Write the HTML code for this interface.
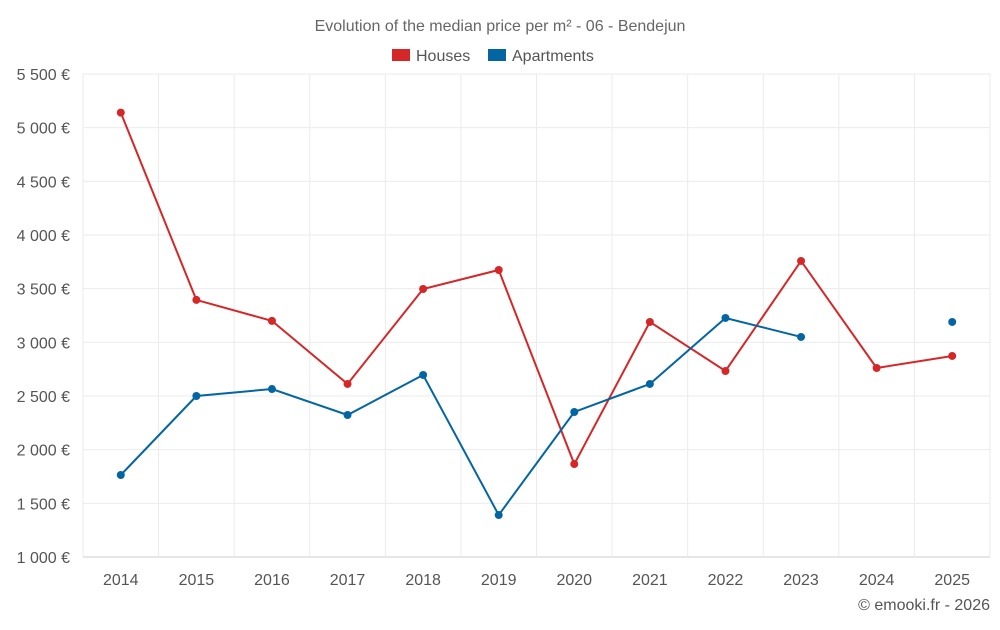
<!DOCTYPE html>
<html><head><meta charset="utf-8"><style>
body{margin:0;background:#fff;font-family:"Liberation Sans",sans-serif;}
svg text{font-family:"Liberation Sans",sans-serif;}
</style></head><body>
<svg id="chart" width="1000" height="625">
<text x="500" y="31" text-anchor="middle" font-size="16" fill="#666">Evolution of the median price per m² - 06 - Bendejun</text>
<g>
<g><rect x="392" y="49" width="18" height="12" fill="#d62728"/><text x="416" y="61" font-size="16" fill="#555">Houses</text></g>
<g><rect x="488" y="49" width="18" height="12" fill="#0366a3"/><text x="512" y="61" font-size="16" fill="#555">Apartments</text></g>
</g>
<g id="grid"></g>
<g id="marks"></g>
<text x="990" y="610" text-anchor="end" font-size="16" fill="#555">© emooki.fr - 2026</text>
</svg>
<script>
const years=[2014,2015,2016,2017,2018,2019,2020,2021,2022,2023,2024,2025];
const houses=[5140,3395,3200,2612,3497,3674,1866,3190,2733,3758,2761,2873];
const apartments=[1764,2500,2565,2323,2696,1391,2351,2612,3227,3050,null,3190];
const yTicks=[1000,1500,2000,2500,3000,3500,4000,4500,5000,5500];
const yTickLabels=["1 000 €","1 500 €","2 000 €","2 500 €","3 000 €","3 500 €","4 000 €","4 500 €","5 000 €","5 500 €"];
const L=83,R=990,T=74,B=557,ymin=1000,ymax=5500;
const step=(R-L)/years.length;
const x=i=>L+step*(i+0.5);
const y=v=>B-(v-ymin)/(ymax-ymin)*(B-T);
const NS="http://www.w3.org/2000/svg";
const grid=document.getElementById('grid'),marks=document.getElementById('marks');
function mk(tag,attrs,parent){const e=document.createElementNS(NS,tag);for(const k in attrs)e.setAttribute(k,attrs[k]);parent.appendChild(e);return e;}
yTicks.forEach((t,i)=>{
  const ln=mk('line',{x1:L,x2:R,y1:y(t),y2:y(t),stroke:i==0?'#ccc':'#ebebeb'},grid);
  
  
  const tx=mk('text',{x:70,y:y(t)+6,'text-anchor':'end','font-size':16,fill:'#555'},grid);
  tx.textContent=yTickLabels[i];
  
  
});
for(let i=0;i<=years.length;i++){
  const ln=mk('line',{x1:L+step*i,x2:L+step*i,y1:T,y2:B,stroke:'#ebebeb'},grid);
  
  
}
years.forEach((yr,i)=>{
  const tx=mk('text',{x:x(i),y:585,'text-anchor':'middle','font-size':16,fill:'#555'},grid);
  tx.textContent=yr;
  
  
});
function series(vals,color,name){
  let segs=[],cur=[];
  vals.forEach((v,i)=>{if(v==null){if(cur.length)segs.push(cur);cur=[];}else cur.push([x(i),y(v)]);});
  if(cur.length)segs.push(cur);
  segs.forEach(s=>{if(s.length>1){
    const p=mk('polyline',{points:s.map(q=>q.join(',')).join(' '),fill:'none',stroke:color,'stroke-width':2},marks);
    
    
  }});
  vals.forEach((v,i)=>{if(v==null)return;
    const c=mk('circle',{cx:x(i),cy:y(v),r:4,fill:color},marks);
    
    
  });
}
series(houses,'#d62728','houses');
series(apartments,'#0366a3','apartments');
</script>
</body></html>
